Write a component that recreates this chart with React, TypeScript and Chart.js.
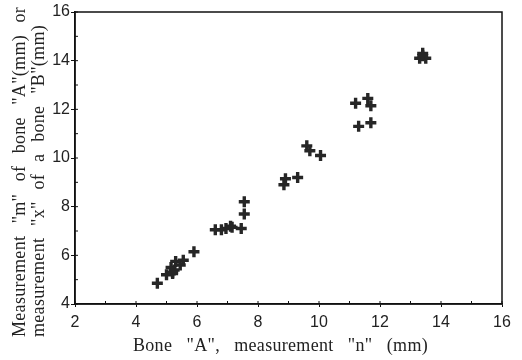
import React, { useEffect, useRef } from "react";
import { Chart, registerables } from "chart.js";

Chart.register(...registerables);

const xValues = [4.7, 5.0, 5.15, 5.2, 5.25, 5.2, 5.3, 5.45, 5.55, 5.9, 6.6, 6.8, 6.95, 7.1, 7.15, 7.45, 7.55, 7.55, 8.85, 8.9, 9.3, 9.6, 9.7, 10.05, 11.2, 11.6, 11.7, 11.3, 11.7, 13.3, 13.4, 13.5, 13.4];
const yValues = [4.85, 5.2, 5.5, 5.25, 5.4, 5.3, 5.75, 5.6, 5.8, 6.15, 7.05, 7.05, 7.1, 7.2, 7.15, 7.1, 7.7, 8.2, 8.9, 9.15, 9.2, 10.5, 10.3, 10.1, 12.25, 12.45, 12.15, 11.3, 11.45, 14.1, 14.3, 14.1, 14.2];
const xTitle = 'Bone "A", measurement "n" (mm)';
const yTitleLines = ['Measurement "m" of bone "A"(mm) or', 'measurement "x" of a bone "B"(mm)'];
const xRange = [2, 16];
const yRange = [4, 16];

const TITLE_FONT = "18px 'Liberation Serif'";

function drawJustified(ctx: any, text: string, x: number, y: number, target: number) {
  const words = text.split(" ");
  const widths = words.map((w) => ctx.measureText(w).width);
  const total = widths.reduce((a, b) => a + b, 0);
  const gap = words.length > 1 ? (target - total) / (words.length - 1) : 0;
  let cx = x;
  words.forEach((w, i) => {
    ctx.fillText(w, cx, y);
    cx += widths[i] + gap;
  });
}

const boxPlugin = {
  id: "boxPlugin",
  afterDraw(chart: any) {
    const { ctx, chartArea } = chart;
    const xs = chart.scales.x;
    const ys = chart.scales.y;
    ctx.save();
    ctx.strokeStyle = "#111";
    ctx.lineWidth = 1.5;
    ctx.strokeRect(chartArea.left, chartArea.top, chartArea.right - chartArea.left, chartArea.bottom - chartArea.top);
    ctx.lineWidth = 1;
    for (let v = xRange[0]; v <= xRange[1]; v += 1) {
      const p = xs.getPixelForValue(v);
      ctx.beginPath();
      ctx.moveTo(p, chartArea.bottom);
      ctx.lineTo(p, chartArea.bottom - 3);
      ctx.stroke();
    }
    for (let v = yRange[0]; v <= yRange[1]; v += 1) {
      const p = ys.getPixelForValue(v);
      ctx.beginPath();
      ctx.moveTo(chartArea.left, p);
      ctx.lineTo(chartArea.left + 3, p);
      ctx.stroke();
    }
    // titles
    ctx.fillStyle = "#222";
    ctx.font = TITLE_FONT;
    (ctx as any).letterSpacing = "0.3px";
    ctx.textBaseline = "alphabetic";
    ctx.textAlign = "left";
    drawJustified(ctx, xTitle, 133, 351, 295);
    ctx.save();
    ctx.rotate(-Math.PI / 2);
    drawJustified(ctx, yTitleLines[0], -337, 25, 330);
    drawJustified(ctx, yTitleLines[1], -337, 44, 312);
    ctx.restore();
    ctx.restore();
  },
};

export default function App() {
  const ref = useRef<HTMLCanvasElement | null>(null);
  useEffect(() => {
    document.body.style.margin = "0";
    const data = xValues.map((x, i) => ({ x, y: yValues[i] }));
    const chart = new Chart(ref.current as HTMLCanvasElement, {
      type: "scatter",
      data: {
        datasets: [
          {
            data,
            pointStyle: "cross",
            pointRadius: 5.5,
            pointBorderWidth: 3.4,
            borderColor: "#262626",
            backgroundColor: "#262626",
          },
        ],
      },
      options: {
        animation: false,
        responsive: false,
        events: [],
        layout: { padding: { top: 12, right: 20, left: 0, bottom: 0 } },
        plugins: { legend: { display: false }, tooltip: { enabled: false } },
        scales: {
          x: {
            type: "linear",
            min: xRange[0],
            max: xRange[1],
            afterFit: (s: any) => { s.height = 56; },
            ticks: { stepSize: 2, color: "#222", font: { family: "Liberation Sans", size: 16 }, padding: 6 },
            grid: { drawOnChartArea: false, drawTicks: true, tickLength: 3, color: "#111" },
            border: { color: "#111", width: 1.5 },
          },
          y: {
            type: "linear",
            min: yRange[0],
            max: yRange[1],
            afterFit: (s: any) => { s.width = 75; },
            ticks: { stepSize: 2, color: "#222", font: { family: "Liberation Sans", size: 16 }, padding: 1 },
            grid: { drawOnChartArea: false, drawTicks: true, tickLength: 4, color: "#111" },
            border: { color: "#111", width: 1.5 },
          },
        },
      },
      plugins: [boxPlugin],
    });
    return () => chart.destroy();
  }, []);
  return (
    <div style={{ position: "absolute", left: 0, top: 0, width: 522, height: 360, background: "#fff" }}>
      <canvas ref={ref} width={522} height={360} />
    </div>
  );
}
